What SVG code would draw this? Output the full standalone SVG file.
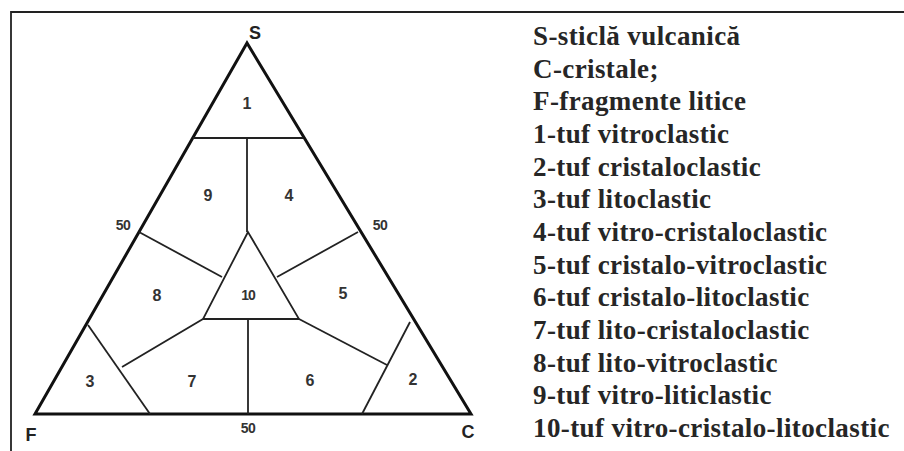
<svg xmlns="http://www.w3.org/2000/svg" width="904" height="451" viewBox="0 0 904 451">
<style>
.frame{fill:none;stroke:#222;stroke-width:1.8}
.main{fill:none;stroke:#111;stroke-width:3;stroke-linejoin:miter}
.div{fill:none;stroke:#222;stroke-width:1.8}
.num{font-family:"Liberation Sans",Arial,sans-serif;font-weight:bold;font-size:16px;fill:#333;text-anchor:middle}
.vx{font-family:"Liberation Sans",Arial,sans-serif;font-weight:bold;font-size:18px;fill:#222;text-anchor:middle}
.fifty{font-family:"Liberation Sans",Arial,sans-serif;font-weight:bold;font-size:14px;fill:#333;text-anchor:middle;letter-spacing:-0.5px}
.leg{font-family:"Liberation Serif","Times New Roman",serif;font-weight:bold;font-size:27px;letter-spacing:0.4px;fill:#262626}
</style>
<rect width="904" height="451" fill="#fff"/>
<path class="frame" d="M11,451 V12 H904"/>
<g id="connectors">
<polygon class="main" points="247,43 35,414 471,414"/>
<line class="div" x1="193" y1="138" x2="303" y2="138"/>
<line class="div" x1="247" y1="138" x2="247" y2="232"/>
<polygon class="div" points="248,232 203,319 299,319"/>
<line class="div" x1="139" y1="232" x2="222" y2="277"/>
<line class="div" x1="358" y1="232" x2="277" y2="277"/>
<line class="div" x1="248" y1="319" x2="248" y2="414"/>
<line class="div" x1="203" y1="319" x2="122" y2="367"/>
<line class="div" x1="88" y1="325" x2="150" y2="414"/>
<line class="div" x1="299" y1="319" x2="387" y2="365"/>
<line class="div" x1="410" y1="322" x2="362" y2="414"/>
</g>
<g id="vertex-S"><text class="vx" x="255" y="39">S</text></g>
<g id="vertex-F"><text class="vx" x="31" y="441">F</text></g>
<g id="vertex-C"><text class="vx" x="468" y="438">C</text></g>
<g id="tick-left"><text class="fifty" x="123" y="230">50</text></g>
<g id="tick-right"><text class="fifty" x="380" y="230">50</text></g>
<g id="tick-bottom"><text class="fifty" x="248" y="433">50</text></g>
<g id="field-1"><text class="num" x="247" y="109">1</text></g>
<g id="field-9"><text class="num" x="208" y="201">9</text></g>
<g id="field-4"><text class="num" x="289" y="201">4</text></g>
<g id="field-8"><text class="num" x="157" y="301">8</text></g>
<g id="field-10"><text class="num" x="248" y="300" style="font-size:14px;letter-spacing:-1px">10</text></g>
<g id="field-5"><text class="num" x="343" y="299">5</text></g>
<g id="field-3"><text class="num" x="90" y="387">3</text></g>
<g id="field-7"><text class="num" x="192" y="387">7</text></g>
<g id="field-6"><text class="num" x="310" y="386">6</text></g>
<g id="field-2"><text class="num" x="413" y="385">2</text></g>
<g id="legend">
<text class="leg" x="533" y="45">S-sticlă vulcanică</text>
<text class="leg" x="533" y="77.7">C-cristale;</text>
<text class="leg" x="533" y="110.3">F-fragmente litice</text>
<text class="leg" x="533" y="143">1-tuf vitroclastic</text>
<text class="leg" x="533" y="175.7">2-tuf cristaloclastic</text>
<text class="leg" x="533" y="208.3">3-tuf litoclastic</text>
<text class="leg" x="533" y="241">4-tuf vitro-cristaloclastic</text>
<text class="leg" x="533" y="273.7">5-tuf cristalo-vitroclastic</text>
<text class="leg" x="533" y="306.3">6-tuf cristalo-litoclastic</text>
<text class="leg" x="533" y="339">7-tuf lito-cristaloclastic</text>
<text class="leg" x="533" y="371.7">8-tuf lito-vitroclastic</text>
<text class="leg" x="533" y="404.3">9-tuf vitro-liticlastic</text>
<text class="leg" x="533" y="437">10-tuf vitro-cristalo-litoclastic</text>
</g>
</svg>
